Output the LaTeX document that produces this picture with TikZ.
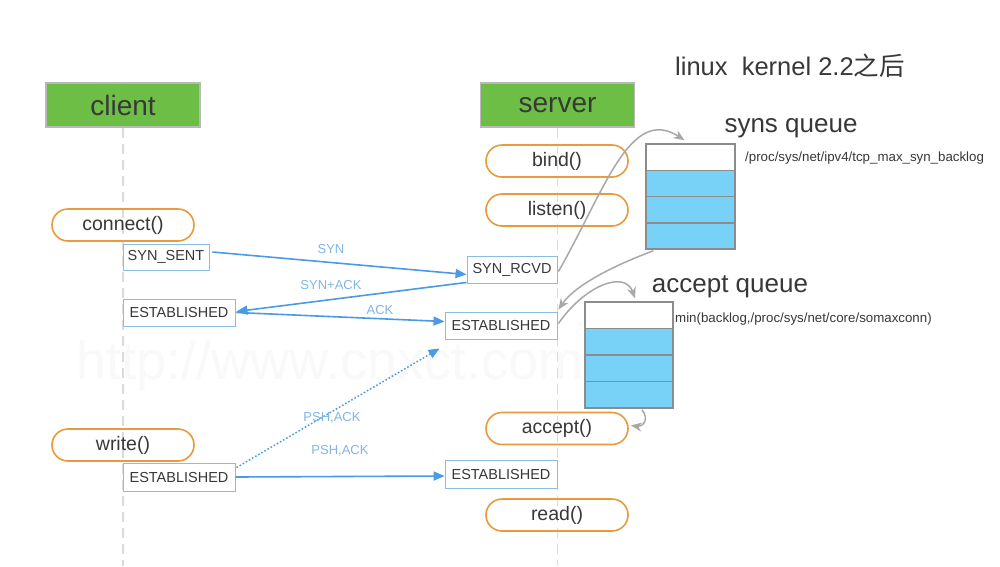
\documentclass[tikz,border=0pt]{standalone}
\usepackage{fontspec}
\setmainfont{Liberation Sans}
\newfontfamily\cjk{Noto Sans CJK SC}
\usetikzlibrary{arrows.meta,calc}
\definecolor{grn}{HTML}{6CBE45}
\definecolor{org}{HTML}{E89A3C}
\definecolor{stb}{HTML}{8CBCE0}
\definecolor{arb}{HTML}{4A9AE6}
\definecolor{lab}{HTML}{80B6E6}
\definecolor{qfill}{HTML}{78D2F8}
\definecolor{qline}{HTML}{8C8C8C}
\definecolor{txt}{HTML}{383838}
\definecolor{curv}{HTML}{A8A8A8}
\tikzset{
  fs/.style={font=\fontsize{#1}{#1}\selectfont},
  head/.style={draw=gray!55, line width=1.5pt, fill=grn, minimum width=154pt, minimum height=44pt, inner sep=0pt, fs=28, text=txt},
  pill/.style={draw=org, line width=1.6pt, rounded corners=16pt, minimum width=142pt, minimum height=32pt, inner sep=0pt, fs=19.5, text=txt},
  state/.style={draw=stb, line width=0.9pt, fill=white, minimum height=27pt, inner sep=0pt, fs=14.5, text=txt},
  qcell/.style={draw=qline, line width=1.5pt, minimum height=26.3pt, inner sep=0pt, fill=qfill},
  msg/.style={draw=arb, line width=1.6pt, -{Triangle[length=11pt,width=9pt]}},
  mlabel/.style={fs=13, text=lab, inner sep=1pt},
  gcurve/.style={draw=curv, line width=1.5pt, -{Stealth[length=11pt,width=9pt]}},
  life/.style={draw=gray!28, line width=1.2pt, dash pattern=on 10pt off 6pt},
}
\begin{document}
\begin{tikzpicture}[x=1pt,y=-1pt]
\useasboundingbox (0,0) rectangle (1000,566);
\fill[white] (0,0) rectangle (1000,566);

% watermark
\node[fs=54, text=gray!5] (wm) at (330,366) {http://www.cnxct.com};

% heads
\node[head] (client) at (123,105) {client};
\node[head] (server) at (557.5,105) {server};
\coordinate (cend) at (123,566);
\coordinate (send) at (557.5,566);
\draw[life] (client.south) -- (cend);
\draw[life] (server.south) -- (send);

% title
\node[fs=25.5, text=txt] (title) at (790,66) {linux\ \ kernel 2.2{\cjk 之后}};

% pills
\node[pill] (bind) at (557,161) {bind()};
\node[pill] (listen) at (557,210) {listen()};
\node[pill] (connect) at (123,225) {connect()};
\node[pill] (write) at (123,445) {write()};
\node[pill] (accept) at (557,428.5) {accept()};
\node[pill] (read) at (557,515) {read()};

% states
\node[state, minimum width=86pt, minimum height=26pt] (ss) at (166,257) {SYN\_SENT};
\node[state, minimum width=90pt] (sr) at (512,269.5) {SYN\_RCVD};
\node[state, minimum width=112pt] (ec1) at (179,312.5) {ESTABLISHED};
\node[state, minimum width=112pt] (es1) at (501,325.5) {ESTABLISHED};
\node[state, minimum width=112pt, minimum height=28pt] (ec2) at (179,477) {ESTABLISHED};
\node[state, minimum width=112pt, minimum height=28pt] (es2) at (501,474) {ESTABLISHED};

% syns queue
\node[qcell, fill=white, minimum width=89pt] (sq0) at (690.5,157.1) {};
\node[qcell, minimum width=89pt] (sq1) at (690.5,183.4) {};
\node[qcell, minimum width=89pt] (sq2) at (690.5,209.6) {};
\node[qcell, minimum width=89pt] (sq3) at (690.5,235.9) {};
\node[fs=26, text=txt] (sqt) at (791,128) {syns queue};
\node[fs=13.3, text=txt, anchor=west, inner sep=0pt] (sqp) at (745,158) {/proc/sys/net/ipv4/tcp\_max\_syn\_backlog};

% accept queue
\node[qcell, fill=white, minimum width=88pt, minimum height=26.5pt] (aq0) at (629,315.25) {};
\node[qcell, minimum width=88pt, minimum height=26.5pt] (aq1) at (629,341.75) {};
\node[qcell, minimum width=88pt, minimum height=26.5pt] (aq2) at (629,368.25) {};
\node[qcell, minimum width=88pt, minimum height=26.5pt] (aq3) at (629,394.75) {};
\node[fs=26, text=txt] (aqt) at (730,287) {accept queue};
\node[fs=13.3, text=txt, anchor=west, inner sep=0pt] (aqp) at (675,319) {min(backlog,/proc/sys/net/core/somaxconn)};

% messages
\draw[msg] ($(ss.east)+(3,-5)$) -- ($(sr.west)+(0,5)$);
\node[mlabel] (lsyn) at (331,249) {SYN};
\draw[msg] ($(sr.south west)+(0,-1)$) -- ($(ec1.east)+(1,-1)$);
\node[mlabel] (lsynack) at (331,285) {SYN+ACK};
\draw[msg] ($(ec1.east)+(1,0)$) -- ($(es1.west)+(0,-4)$);
\node[mlabel] (lack) at (380,310) {ACK};
\draw[msg, dotted, line width=1.5pt] ($(ec2.north east)+(1,5)$) -- ($(es1.south west)+(-5,9)$);
\node[mlabel] (lpsh1) at (332,418) {PSH,ACK};
\draw[msg] (ec2.east) -- ($(es2.west)+(0,2)$);
\node[mlabel] (lpsh2) at (340,451) {PSH,ACK};

% gray curves
\draw[gcurve] ($(sr.east)+(1,2)$) .. controls (605,190) and (630,105) .. ($(sq0.north)+(-6,-3)$);
\draw[gcurve] ($(sq3.south west)+(8,1)$) .. controls (615,265) and (575,285) .. ($(es1.north east)+(1,-2)$);
\draw[gcurve] ($(es1.east)+(1,-2)$) .. controls (585,285) and (625,270) .. ($(aq0.north)+(6,-3)$);
\draw[gcurve] ($(aq3.south)+(13,1)$) .. controls (650,420) and (642,427) .. ($(accept.east)+(2,-3)$);
\end{tikzpicture}
\end{document}
